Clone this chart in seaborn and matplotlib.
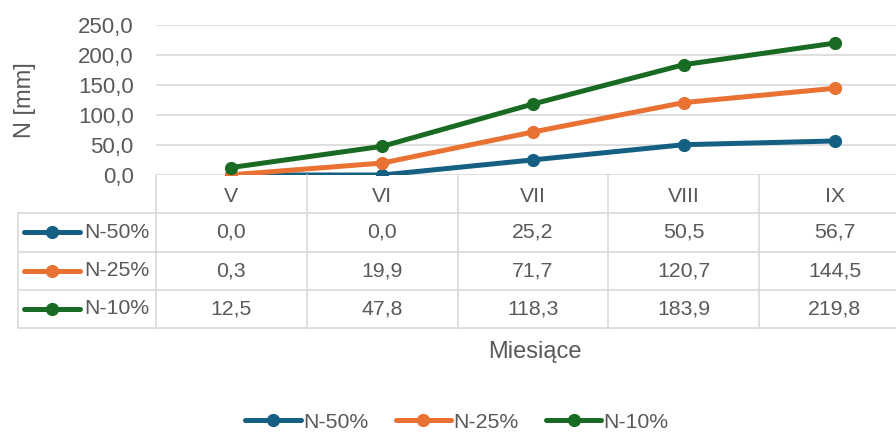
import pandas as pd
import matplotlib.pyplot as plt
import seaborn as sns

# dane
months = ['V', 'VI', 'VII', 'VIII', 'IX']
series = ['N-50%', 'N-25%', 'N-10%']
n50 = [0.0, 0.0, 25.2, 50.5, 56.7]
n25 = [0.3, 19.9, 71.7, 120.7, 144.5]
n10 = [12.5, 47.8, 118.3, 183.9, 219.8]
colors = ['#156082', '#E97132', '#196B24']
y_ticks = [0, 50, 100, 150, 200, 250]

TXT = '#595959'
GRID = '#D9D9D9'
FS = 15.3

sns.set_theme(style='white')
plt.rcParams['font.family'] = ['Liberation Sans', 'DejaVu Sans']

df = pd.DataFrame({
    'pos': list(range(len(months))) * 3,
    'val': n50 + n25 + n10,
    'series': [s for s in series for _ in months],
})

W, H = 896, 432
fig = plt.figure(figsize=(W / 100, H / 100), dpi=100)

# obszar wykresu (wychodzi poza prawą krawędź jak w oryginale)
x0, x1 = 156, 910
ax = fig.add_axes([x0 / W, 1 - 175 / H, (x1 - x0) / W, 150 / H])
sns.lineplot(data=df, x='pos', y='val', hue='series', palette=colors,
             marker='o', markersize=9.5, markeredgewidth=0, linewidth=3.6,
             ax=ax, legend=False)
ax.set_xlim(-0.5, len(months) - 0.5)
ax.set_ylim(0, 250)
ax.set_yticks(y_ticks)
ax.set_yticklabels([f'{v:.1f}'.replace('.', ',') for v in y_ticks], color=TXT, fontsize=FS + 0.7)
ax.set_xticks([])
ax.set_xlabel('')
ax.set_ylabel('')
ax.tick_params(axis='y', length=0, pad=16)
ax.grid(axis='y', color=GRID, linewidth=1.2)
for s in ax.spines.values():
    s.set_visible(False)

# tabela danych
tab = fig.add_axes([x0 / W, 1 - 328 / H, (x1 - x0) / W, 153 / H], sharex=ax)
tab.set_ylim(4, 0)
tab.axis('off')
unit = (x1 - x0) / len(months)
left = -0.5 - (x0 - 18) / unit

for r in range(1, 5):
    tab.plot([left, len(months) - 0.5], [r, r], color=GRID, lw=1.2, clip_on=False)
for c in range(len(months) + 1):
    tab.plot([c - 0.5, c - 0.5], [0, 4], color=GRID, lw=1.2, clip_on=False)
tab.plot([left, left], [1, 4], color=GRID, lw=1.2, clip_on=False)

for i, m in enumerate(months):
    tab.text(i, 0.55, m, ha='center', va='center', color=TXT, fontsize=FS, clip_on=False)

for r, (name, vals, col) in enumerate(zip(series, [n50, n25, n10], colors), start=1):
    k0 = left + 6 / unit
    k1 = left + 62 / unit
    tab.plot([k0, k1], [r + 0.5, r + 0.5], color=col, lw=3.6, solid_capstyle='round', clip_on=False)
    tab.plot([(k0 + k1) / 2], [r + 0.5], 'o', color=col, ms=9.5, mew=0, clip_on=False)
    tab.text(left + 66 / unit, r + 0.5, name, ha='left', va='center', color=TXT, fontsize=FS)
    for i, v in enumerate(vals):
        tab.text(i, r + 0.5, f'{v:.1f}'.replace('.', ','), ha='center', va='center',
                 color=TXT, fontsize=FS, clip_on=False)

fig.text(25 / W, 1 - 100 / H, 'N [mm]', rotation=90, ha='center', va='center', color=TXT, fontsize=17)
fig.text(535 / W, 1 - 352 / H, 'Miesiące', ha='center', va='center', color=TXT, fontsize=17)

leg = fig.legend(handles=ax.lines[:3], labels=series, loc='center', ncol=3,
                 bbox_to_anchor=(0.51, 1 - 422 / H), frameon=False, fontsize=FS,
                 handlelength=2.6, handletextpad=0.1, columnspacing=1.3)
for t in leg.get_texts():
    t.set_color(TXT)

fig.savefig('out.png', dpi=100)
